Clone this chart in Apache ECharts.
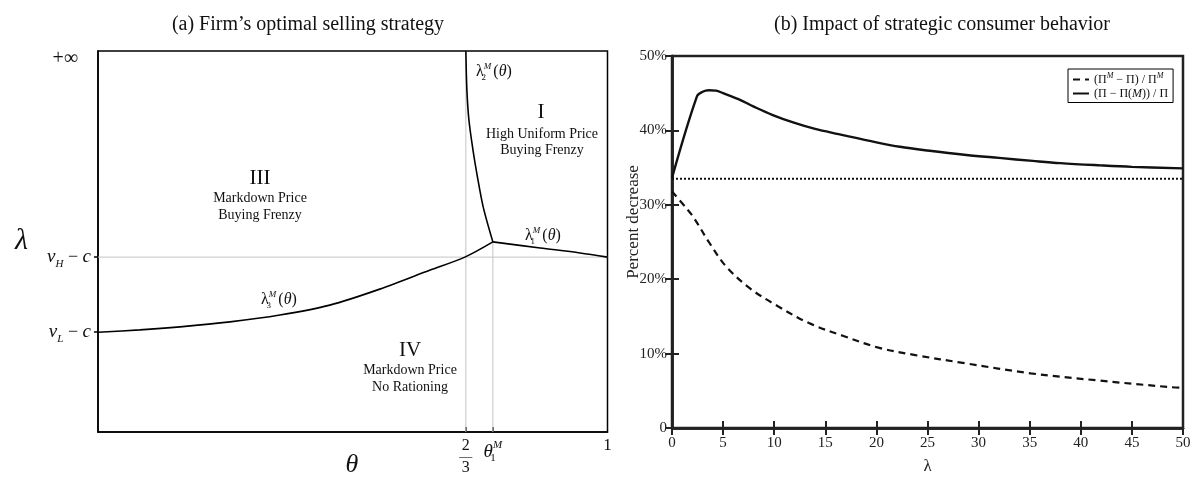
<!DOCTYPE html>
<html><head><meta charset="utf-8">
<script src="https://cdn.jsdelivr.net/npm/echarts@6/dist/echarts.min.js"></script>
<style>html,body{margin:0;padding:0;background:#fff}#c{width:1192px;height:478px}</style>
</head><body><div id="c"></div>
<script>
// ---------- Panel (a) data (abstract theta / lambda coordinates, 0..1) ----------
const thetaTickValues = [0.722, 0.775, 1];
const thetaTickLabels = ['2/3', 'theta1M', '1'];
const lambdaTickValues = [0.262, 0.459];
const lambdaLabelValues = [0.262, 0.459, 0.98];
const lambdaTickLabels = ['vL', 'vH', 'inf'];
const lambda3Curve = [[0,0.262],[0.082,0.268],[0.161,0.276],[0.259,0.289],[0.357,0.307],[0.455,0.333],[0.553,0.375],[0.652,0.425],[0.720,0.459],[0.775,0.499]];
const lambda2Curve = [[0.722,1.0],[0.724,0.898],[0.728,0.819],[0.736,0.740],[0.744,0.675],[0.756,0.591],[0.775,0.499]];
const lambda1Curve = [[0.775,0.499],[0.868,0.483],[0.946,0.470],[1.0,0.459]];
const guideTwoThirds = [[0.722,0],[0.722,1]];
const guideTheta1 = [[0.775,0],[0.775,0.499]];
const guideVH = [[0,0.459],[1,0.459]];

// ---------- Panel (b) data (lambda, percent decrease) ----------
const lambdaTicksB = [0,5,10,15,20,25,30,35,40,45,50];
const percentTicks = [0,10,20,30,40,50];
const nameDashed = '(Π^M − Π)/Π^M';
const nameSolid = '(Π − Π(M))/Π';
const dashedSeries = [[0,31.8],[1.43,29.5],[2.07,28.4],[3.7,24.8],[5.3,21.7],[7.6,18.8],[10.2,16.5],[13.4,14.1],[16.7,12.4],[20.2,10.8],[23.8,9.8],[28.7,8.7],[35.1,7.35],[41.6,6.4],[48.7,5.5],[50,5.4]];
const solidSeries = [[0,33.6],[2.45,44.6],[3.0,45.2],[3.6,45.4],[4.3,45.35],[5,45.0],[6.5,44.2],[8,43.2],[9.8,42.1],[12,41.0],[14,40.2],[16.3,39.5],[20,38.4],[22.3,37.8],[25,37.3],[28.8,36.7],[32,36.3],[35.3,35.9],[38,35.6],[41.9,35.3],[45,35.1],[50,34.9]];
const dottedSeries = [[0,33.5],[50,33.5]];

const SERIF = '"Liberation Serif","DejaVu Serif",serif';
const chart = echarts.init(document.getElementById('c'), null, {renderer:'canvas'});

function blackLine(data, grid, opts) {
  return Object.assign({
    type:'line', data:data, xAxisIndex:grid===0?0:1, yAxisIndex:grid===0?0:1,
    symbol:'none', silent:true, smooth:0.3, color:'#111',
    itemStyle:{color:'#111'},
    lineStyle:{color:'#000', width:1.6}, animation:false, z:3
  }, opts||{});
}

const curveLabelRich = {
  l:{fontFamily:SERIF,fontSize:16,lineHeight:20,fill:'#111'},
  t:{fontFamily:SERIF,fontSize:16,fontStyle:'italic',lineHeight:20,fill:'#111'},
  s:{fontFamily:SERIF,fontSize:9,lineHeight:20,verticalAlign:'bottom',width:0,fill:'#111'},
  p:{fontFamily:SERIF,fontSize:9,fontStyle:'italic',lineHeight:20,verticalAlign:'top',fill:'#111',padding:[0,2,0,0]}
};

const option = {
  animation:false,
  backgroundColor:'#fff',
  title:[
    {text:'(a) Firm’s optimal selling strategy', left:303, top:10, textAlign:'center',
     textStyle:{fontFamily:SERIF, fontSize:20, fontWeight:'normal', color:'#111'}},
    {text:'(b) Impact of strategic consumer behavior', left:937, top:10, textAlign:'center',
     textStyle:{fontFamily:SERIF, fontSize:20, fontWeight:'normal', color:'#111'}}
  ],
  grid:[
    {left:98, top:51, width:509.5, height:381, outerBoundsMode:'none', containLabel:false, show:true, borderColor:'#000', borderWidth:1.5, backgroundColor:'transparent'},
    {left:672, top:56, width:511, height:372, outerBoundsMode:'none', containLabel:false, show:true, borderColor:'#222', borderWidth:2.5, backgroundColor:'transparent'}
  ],
  xAxis:[
    {gridIndex:0, type:'value', min:0, max:1, splitLine:{show:false},
     axisLine:{show:true, lineStyle:{color:'#000', width:1.5}},
     axisTick:{show:true, inside:true, length:5, customValues:[0.722,0.775], lineStyle:{color:'#000', width:1.5}},
     axisLabel:{show:true, customValues:thetaTickValues, margin:8, color:'#111', fontFamily:SERIF, fontSize:16,
       formatter:function(v){
         const i = thetaTickValues.indexOf(v);
         const k = thetaTickLabels[i];
         if (k==='2/3') return '{n|2}\n{b|―}\n{n|3}';
         if (k==='theta1M') return '{t|θ}{s|1}{p|M}';
         return '{o|1}';
       },
       rich:{
         n:{fontFamily:SERIF, fontSize:16, lineHeight:12, color:'#111'},
         b:{fontFamily:SERIF, fontSize:13, lineHeight:10, color:'#111'},
         t:{fontFamily:SERIF, fontSize:19, fontStyle:'italic', lineHeight:24, color:'#111', verticalAlign:'middle'},
         s:{fontFamily:SERIF, fontSize:11, lineHeight:24, color:'#111', verticalAlign:'bottom', width:0},
         p:{fontFamily:SERIF, fontSize:11, fontStyle:'italic', lineHeight:24, color:'#111', verticalAlign:'top'},
         o:{fontFamily:SERIF, fontSize:17, lineHeight:12, color:'#111'}
       }}},
    {gridIndex:1, type:'value', min:0, max:50, interval:5, splitLine:{show:false},
     axisLine:{show:true, lineStyle:{color:'#222', width:2.5}},
     axisTick:{show:true, inside:true, length:7, lineStyle:{color:'#222', width:2}},
     axisLabel:{margin:8, color:'#222', fontFamily:SERIF, fontSize:15},
     name:'λ', nameLocation:'middle', nameGap:30, nameMoveOverlap:false,
     nameTextStyle:{fontFamily:SERIF, fontSize:17, color:'#222'}},
    {gridIndex:1, type:'value', position:'top', min:0, max:50, interval:5, splitLine:{show:false},
     axisLine:{show:true, lineStyle:{color:'#222', width:2.5}},
     axisTick:{show:true, inside:true, length:7, lineStyle:{color:'#222', width:2}},
     axisLabel:{show:false}}
  ],
  yAxis:[
    {gridIndex:0, type:'value', min:0, max:1, splitLine:{show:false},
     axisLine:{show:true, lineStyle:{color:'#000', width:1.5}},
     axisTick:{show:true, inside:false, length:4, customValues:lambdaTickValues, lineStyle:{color:'#000', width:1.5}},
     axisLabel:{show:true, customValues:lambdaLabelValues, margin:7, color:'#111',
       formatter:function(v){
         const k = lambdaTickLabels[lambdaLabelValues.indexOf(v)];
         if (k==='vH') return '{i|v}{s|H}{n| − }{i|c}';
         if (k==='vL') return '{i|v}{s|L}{n| − }{i|c}';
         return '{f|+∞}';
       },
       rich:{
         i:{fontFamily:SERIF, fontSize:19, fontStyle:'italic', lineHeight:24, color:'#111', verticalAlign:'middle'},
         s:{fontFamily:SERIF, fontSize:11, fontStyle:'italic', lineHeight:24, color:'#111', verticalAlign:'bottom'},
         n:{fontFamily:SERIF, fontSize:18, lineHeight:24, color:'#111', verticalAlign:'middle'},
         f:{fontFamily:SERIF, fontSize:20, lineHeight:24, color:'#111', padding:[0,13,0,0]}
       }},
     name:'λ', nameLocation:'middle', nameGap:70, nameRotate:0, nameMoveOverlap:false,
     nameTextStyle:{fontFamily:SERIF, fontSize:30, fontStyle:'italic', color:'#111'}},
    {gridIndex:1, type:'value', min:0, max:50, interval:10, splitLine:{show:false},
     axisLine:{show:true, lineStyle:{color:'#222', width:2.5}},
     axisTick:{show:true, inside:true, length:7, lineStyle:{color:'#222', width:2}},
     axisLabel:{margin:5, color:'#222', fontFamily:SERIF, fontSize:15,
       formatter:function(v){ return v===0 ? '0' : v + '%'; }},
     name:'Percent decrease', nameLocation:'middle', nameGap:30, nameMoveOverlap:false,
     nameTextStyle:{fontFamily:SERIF, fontSize:17, color:'#222', padding:[0,0,0,40]}},
    {gridIndex:1, type:'value', position:'right', min:0, max:50, interval:10, splitLine:{show:false},
     axisLine:{show:true, lineStyle:{color:'#222', width:2.5}},
     axisTick:{show:true, inside:true, length:7, lineStyle:{color:'#222', width:2}},
     axisLabel:{show:false}}
  ],
  legend:{
    data:[nameDashed, nameSolid], orient:'vertical', left:1068, top:69,
    borderColor:'#000', borderWidth:1, padding:[3,5,3,4], itemGap:2,
    itemWidth:16, itemHeight:10, backgroundColor:'#fff',
    itemStyle:{opacity:0, borderWidth:0},
    formatter:function(name){
      if (name===nameDashed) return '{a|(Π}{s|M}{a| − Π) / Π}{s|M}';
      return '{a|(Π − Π(}{m|M}{a|)) / Π}';
    },
    textStyle:{color:'#111', fontFamily:SERIF, fontSize:12,
      rich:{
        a:{fontFamily:SERIF, fontSize:12, lineHeight:15, color:'#111'},
        s:{fontFamily:SERIF, fontSize:8, fontStyle:'italic', lineHeight:15, color:'#111', verticalAlign:'top'},
        m:{fontFamily:SERIF, fontSize:12, fontStyle:'italic', lineHeight:15, color:'#111'}
      }}
  },
  graphic:[
    {type:'text', silent:true, style:{x:352, y:465, text:'θ', align:'center', verticalAlign:'middle', font:'italic 26px '+SERIF, fill:'#111'}},
    {type:'text', silent:true, style:{x:494, y:72, text:'{l|λ}{s|2}{p|M}{l|(}{t|θ}{l|)}', align:'center', verticalAlign:'middle', rich:curveLabelRich}},
    {type:'text', silent:true, style:{x:543, y:236, text:'{l|λ}{s|1}{p|M}{l|(}{t|θ}{l|)}', align:'center', verticalAlign:'middle', rich:curveLabelRich}},
    {type:'text', silent:true, style:{x:279, y:300, text:'{l|λ}{s|3}{p|M}{l|(}{t|θ}{l|)}', align:'center', verticalAlign:'middle', rich:curveLabelRich}},
    {type:'text', silent:true, style:{x:541, y:112, text:'I', align:'center', verticalAlign:'middle', font:'21px '+SERIF, fill:'#111'}},
    {type:'text', silent:true, style:{x:542, y:134, text:'High Uniform Price', align:'center', verticalAlign:'middle', font:'14px '+SERIF, fill:'#111'}},
    {type:'text', silent:true, style:{x:542, y:150, text:'Buying Frenzy', align:'center', verticalAlign:'middle', font:'14px '+SERIF, fill:'#111'}},
    {type:'text', silent:true, style:{x:260, y:178, text:'III', align:'center', verticalAlign:'middle', font:'21px '+SERIF, fill:'#111'}},
    {type:'text', silent:true, style:{x:260, y:198, text:'Markdown Price', align:'center', verticalAlign:'middle', font:'14px '+SERIF, fill:'#111'}},
    {type:'text', silent:true, style:{x:260, y:215, text:'Buying Frenzy', align:'center', verticalAlign:'middle', font:'14px '+SERIF, fill:'#111'}},
    {type:'text', silent:true, style:{x:410, y:350, text:'IV', align:'center', verticalAlign:'middle', font:'21px '+SERIF, fill:'#111'}},
    {type:'text', silent:true, style:{x:410, y:370, text:'Markdown Price', align:'center', verticalAlign:'middle', font:'14px '+SERIF, fill:'#111'}},
    {type:'text', silent:true, style:{x:410, y:387, text:'No Rationing', align:'center', verticalAlign:'middle', font:'14px '+SERIF, fill:'#111'}}
  ],
  series:[
    blackLine(guideTwoThirds, 0, {smooth:false, lineStyle:{color:'#c4c4c4', width:1}, z:1}),
    blackLine(guideTheta1, 0, {smooth:false, lineStyle:{color:'#c4c4c4', width:1}, z:1}),
    blackLine(guideVH, 0, {smooth:false, lineStyle:{color:'#c4c4c4', width:1}, z:1}),
    blackLine(lambda3Curve, 0),
    blackLine(lambda2Curve, 0),
    blackLine(lambda1Curve, 0),
    blackLine(dottedSeries, 1, {name:'dotted', smooth:false, lineStyle:{color:'#111', width:2, type:[2,2]}}),
    blackLine(dashedSeries, 1, {name:nameDashed, smooth:0.35, lineStyle:{color:'#111', width:2.2, type:[7,5]}}),
    blackLine(solidSeries, 1, {name:nameSolid, smooth:0.35, lineStyle:{color:'#111', width:2.4}})
  ]
};
chart.setOption(option);
</script></body></html>
